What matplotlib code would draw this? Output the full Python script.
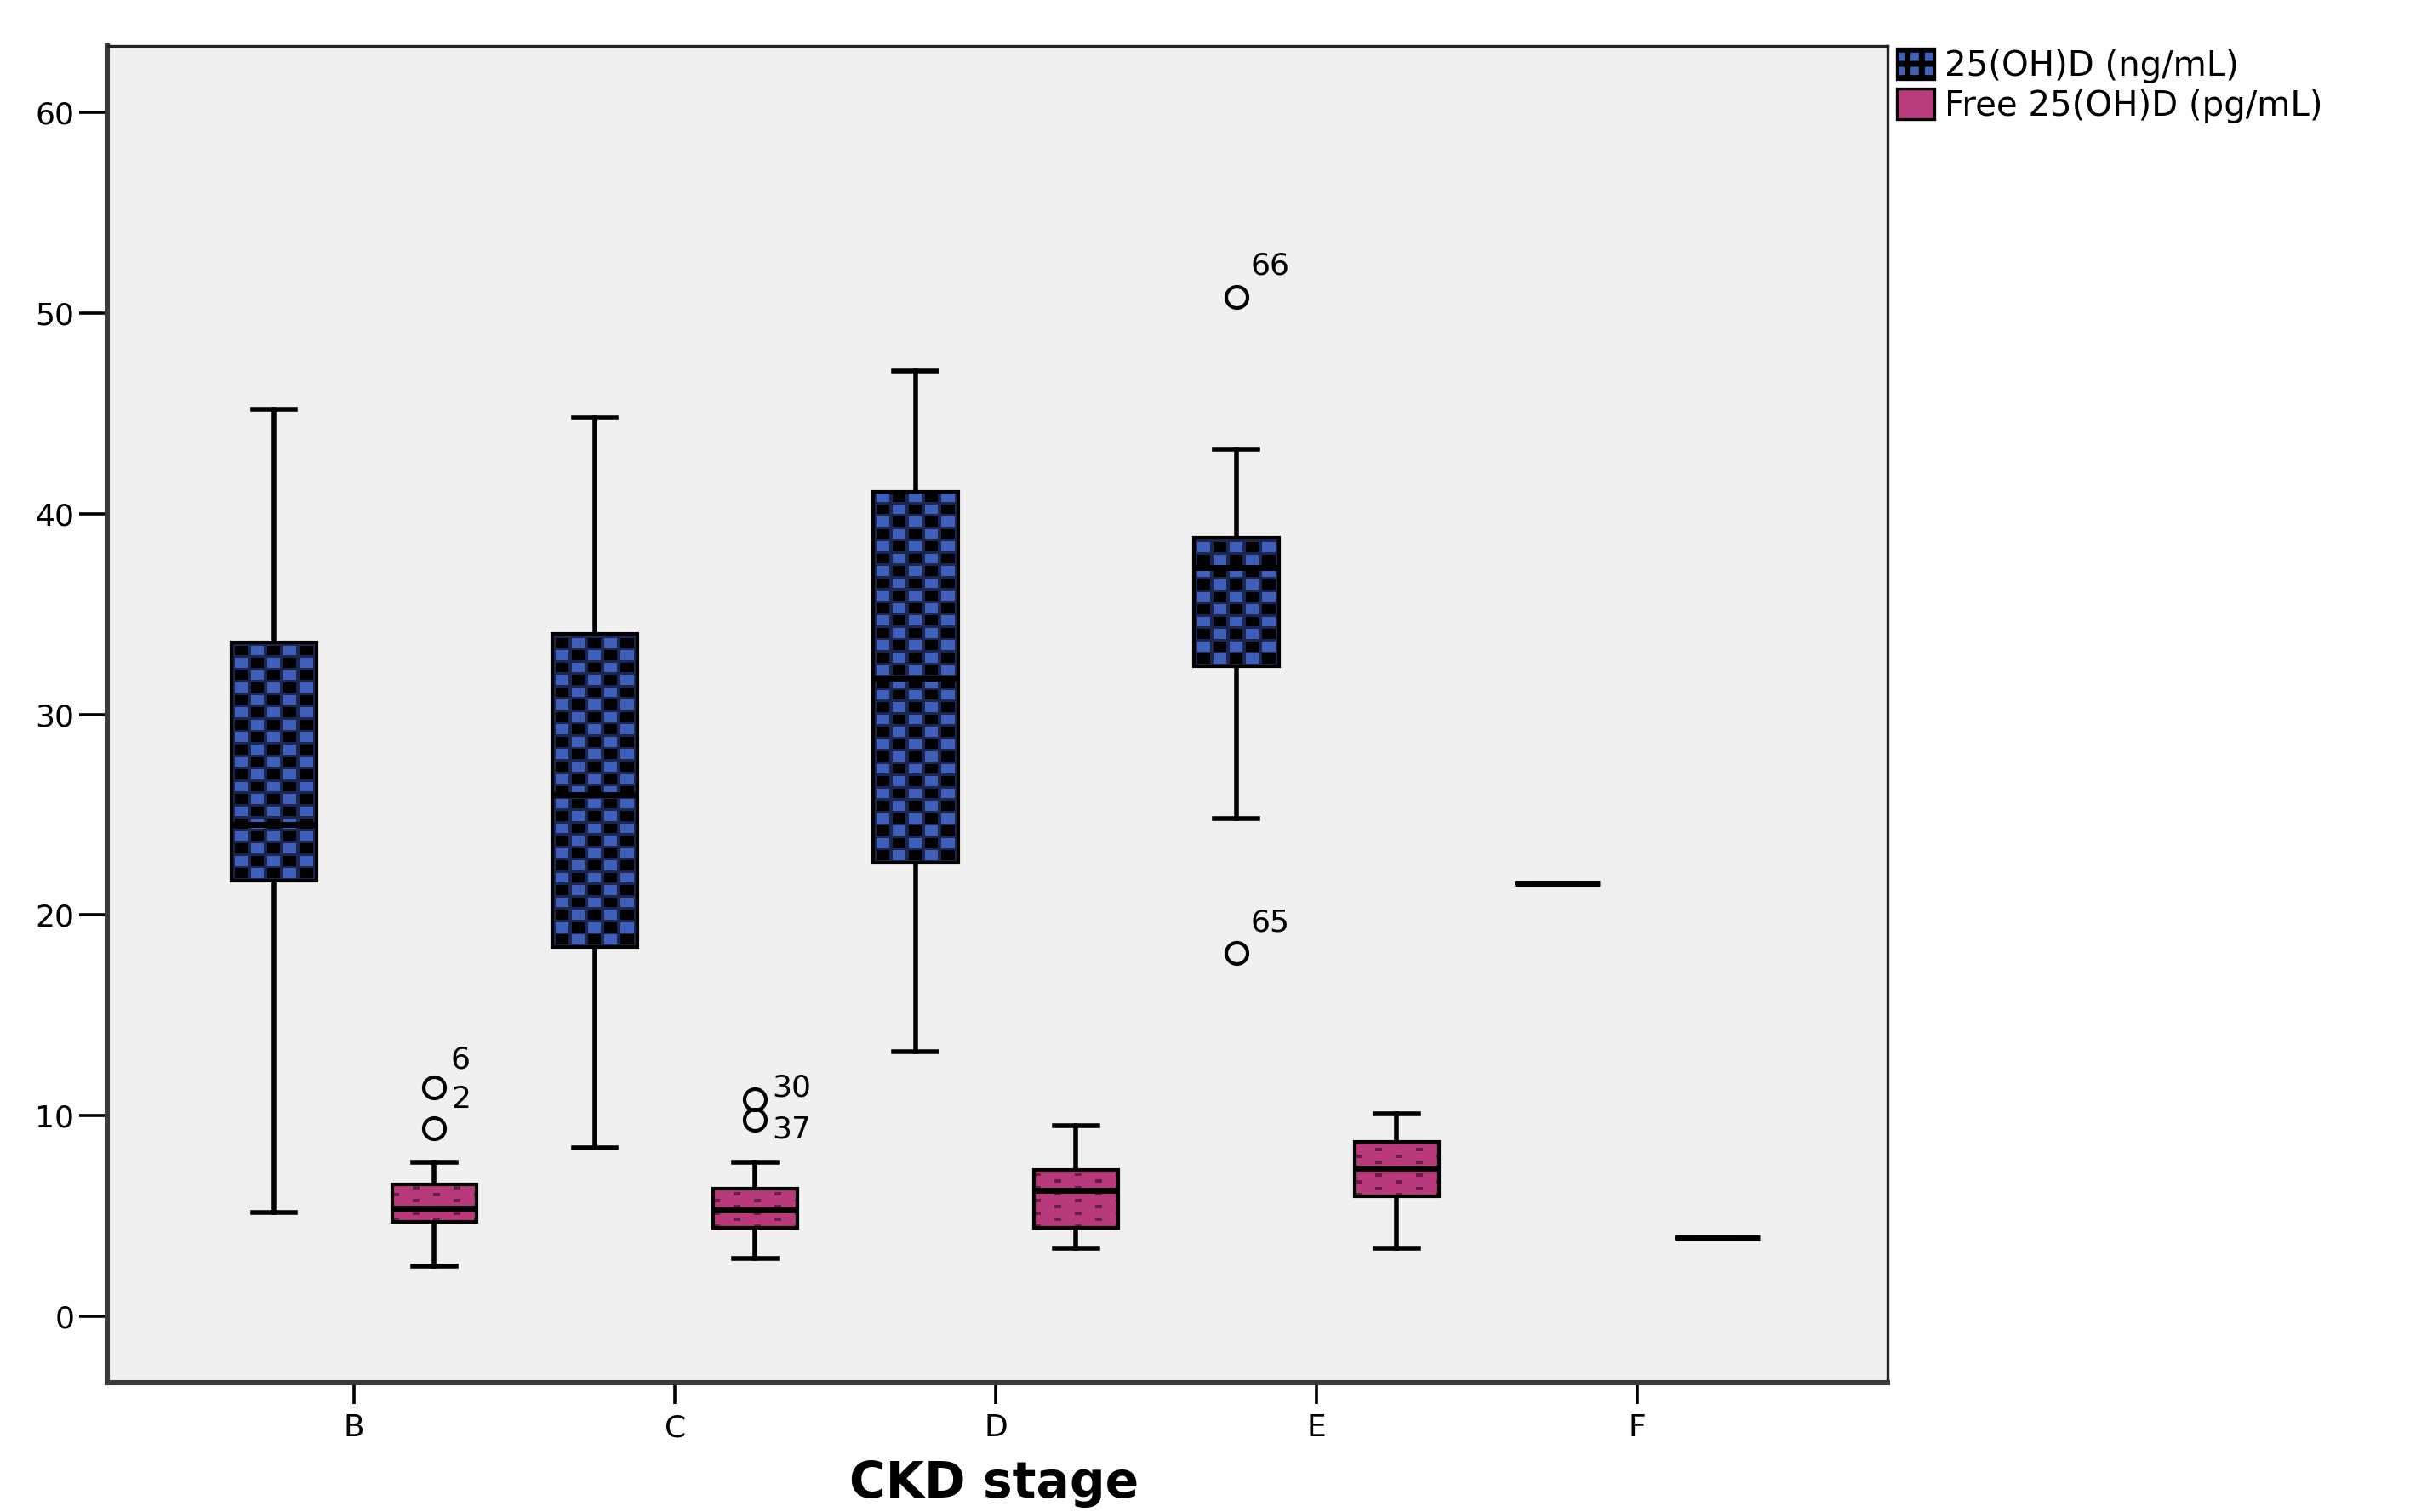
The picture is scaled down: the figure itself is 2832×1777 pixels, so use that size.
import numpy as np
import matplotlib.pyplot as plt
from matplotlib.patches import Patch

stages = ['B', 'C', 'D', 'E', 'F']

# 25(OH)D (ng/mL)
tot_whislo = [5.2, 8.4, 13.2, 24.8, 21.6]
tot_q1 = [21.7, 18.4, 22.6, 32.4, 21.6]
tot_med = [24.5, 26.0, 31.8, 37.3, 21.6]
tot_q3 = [33.6, 34.0, 41.1, 38.8, 21.6]
tot_whishi = [45.2, 44.8, 47.1, 43.2, 21.6]
tot_fliers = [[], [], [], [50.8, 18.1], []]
tot_ids = [[], [], [], ['66', '65'], []]

# Free 25(OH)D (pg/mL)
free_whislo = [2.5, 2.9, 3.4, 3.4, 3.9]
free_q1 = [4.7, 4.4, 4.4, 6.0, 3.9]
free_med = [5.4, 5.3, 6.3, 7.4, 3.9]
free_q3 = [6.6, 6.35, 7.3, 8.7, 3.9]
free_whishi = [7.7, 7.7, 9.5, 10.1, 3.9]
free_fliers = [[11.4, 9.4], [10.8, 9.8], [], [], []]
free_ids = [['6', '2'], ['30', '37'], [], [], []]

label_offsets = {'6': (7, 12), '2': (7, 12), '30': (7, 5), '37': (7, -4),
                 '66': (6, 13), '65': (6, 13)}

blue = '#4060BA'
pink = '#B93B7B'


def stats(lo, q1, med, q3, hi, fl):
    return [dict(whislo=a, q1=b, med=c, q3=d, whishi=e, fliers=f)
            for a, b, c, d, e, f in zip(lo, q1, med, q3, hi, fl)]


def checker_tile():
    c = {'n': (0.11, 0.15, 0.32), 'k': (0, 0, 0), 'b': (0.25, 0.38, 0.73)}
    tile = np.zeros((10, 10, 3))
    for r in range(2):
        for col in range(2):
            fill = c['k'] if (r + col) % 2 == 0 else c['b']
            tile[r*5:(r+1)*5, col*5:(col+1)*5] = fill
            tile[r*5, col*5:(col+1)*5] = c['n']
            tile[r*5:(r+1)*5, col*5] = c['n']
    return tile


def dash_tile():
    tile = np.zeros((4, 12, 3))
    tile[:] = (0.725, 0.23, 0.48)
    dark = (0.40, 0.12, 0.27)
    tile[0, 0:2] = dark
    tile[2, 6:8] = dark
    return tile


def texture(ax, box, tile, tw, th):
    ext = box.get_path().get_extents()
    if ext.height <= 0:
        return
    nx = int(np.ceil(ext.width / tw)) + 1
    ny = int(np.ceil(ext.height / th)) + 1
    img = np.tile(tile, (ny, nx, 1))
    im = ax.imshow(img, extent=(ext.x0, ext.x0 + nx*tw, ext.y0, ext.y0 + ny*th),
                   origin='lower', aspect='auto', interpolation='nearest', zorder=2.2)
    im.set_clip_path(box)


fig = plt.figure(figsize=(14.16, 8.885), dpi=200)
ax = fig.add_axes([0.0445, 0.0855, 0.7387, 0.884])
ax.set_facecolor('#F0F0F0')

x = np.arange(len(stages))
common = dict(patch_artist=True, manage_ticks=False, widths=0.264, capwidths=0.135,
              whiskerprops=dict(color='black', lw=2),
              capprops=dict(color='black', lw=2),
              medianprops=dict(color='black', lw=2.5, zorder=3),
              flierprops=dict(marker='o', mfc='none', mec='black', ms=9, mew=1.5))

b1 = ax.bxp(stats(tot_whislo, tot_q1, tot_med, tot_q3, tot_whishi, tot_fliers),
            positions=x - 0.25,
            boxprops=dict(facecolor='none', edgecolor='black', lw=1.5, zorder=2.6), **common)
b2 = ax.bxp(stats(free_whislo, free_q1, free_med, free_q3, free_whishi, free_fliers),
            positions=x + 0.25,
            boxprops=dict(facecolor='none', edgecolor='black', lw=1.5, zorder=2.6), **common)

for box in b1['boxes']:
    texture(ax, box, checker_tile(), 0.101, 1.23)
for box in b2['boxes']:
    texture(ax, box, dash_tile(), 0.1275, 0.636)

# outlier case labels
for offs, fliers, ids in [(-0.25, tot_fliers, tot_ids), (0.25, free_fliers, free_ids)]:
    for i in range(len(stages)):
        for v, lab in zip(fliers[i], ids[i]):
            ax.annotate(lab, (x[i] + offs, v), xytext=label_offsets[lab],
                        textcoords='offset points', ha='left', va='center', fontsize=13)

ax.set_xlim(-0.77, 4.78)
ax.set_ylim(-3.3, 63.3)
ax.set_xticks(x)
ax.set_xticklabels(stages, fontsize=13)
ax.set_yticks(np.arange(0, 61, 10))
ax.tick_params(axis='y', labelsize=13, length=12, width=1.3, pad=2)
ax.tick_params(axis='x', length=9, width=1.3, pad=4)
for side in ['left', 'bottom']:
    ax.spines[side].set_linewidth(2.2)
    ax.spines[side].set_color('#3a3a3a')
for side in ['top', 'right']:
    ax.spines[side].set_linewidth(1.2)
    ax.spines[side].set_color('#222222')

fig.text(0.4123, 0.0095, 'CKD stage', ha='center', va='baseline', fontsize=21,
         fontweight='bold')

handles = [Patch(facecolor=blue, edgecolor='black', hatch='++', lw=1.2),
           Patch(facecolor=pink, edgecolor='black', lw=1.2)]
plt.rcParams['hatch.linewidth'] = 2.5
fig.legend(handles, ['25(OH)D (ng/mL)', 'Free 25(OH)D (pg/mL)'], loc='upper left',
           bbox_to_anchor=(0.787, 0.968), frameon=False, fontsize=14.5,
           handlelength=1.1, handleheight=1.0, handletextpad=0.3,
           labelspacing=0.15, borderaxespad=0, borderpad=0)

fig.savefig('out.png', dpi=200)
